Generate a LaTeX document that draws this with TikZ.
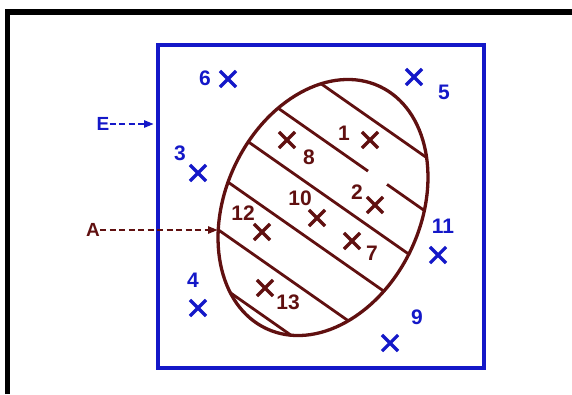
\documentclass[tikz,border=0pt]{standalone}
\usepackage{fontspec}
\setmainfont{Liberation Sans}
\usetikzlibrary{shapes.misc, arrows.meta}
\definecolor{setblue}{RGB}{20,24,200}
\definecolor{setbrown}{RGB}{96,16,16}

\begin{document}
\begin{tikzpicture}[
  x=1pt, y=-1pt,
  font=\fontsize{21}{21}\selectfont\bfseries,
  xmark/.style={cross out, draw, line width=3.2pt, minimum size=13pt, inner sep=0pt},
  bx/.style={xmark, draw=setblue},
  rx/.style={xmark, draw=setbrown},
  bl/.style={text=setblue, inner sep=0pt},
  rl/.style={text=setbrown, inner sep=0pt},
  tag/.style={inner sep=0pt, font=\fontsize{19}{19}\selectfont\bfseries},
  ptr/.style={-{Triangle[length=10pt,width=7pt]}, dash pattern=on 6pt off 3.5pt, line width=2.8pt},
  hatch/.style={setbrown, line width=2.8pt},
]
\useasboundingbox (0,0) rectangle (572,394);
% outer frame, cut by the page on the right and bottom
\draw[line width=5.5pt] (7.5,394) |- (572,12);

% universal set E
\node (E) [draw=setblue, line width=4pt, minimum width=326pt,
           minimum height=323pt, inner sep=0pt] at (321,206.5) {};

% set A, hatched
\begin{scope}
  \clip[shift={(323,207.5)}, rotate=65] (0,0) ellipse [x radius=133.7pt, y radius=97.6pt];
  \foreach \c in {-141,-32,22.5,77,131.5}
    \draw[hatch] (150,{105+\c}) -- (500,{350+\c});
  \draw[hatch] (150,18.5) -- (368,171.1);
  \draw[hatch] (387,184.4) -- (500,263.5);
\end{scope}
\draw[setbrown, line width=3.3pt, shift={(323,207.5)}, rotate=65]
  (0,0) ellipse [x radius=133.7pt, y radius=97.6pt];
\coordinate (atip) at (218,230);

% points outside A
\node (p6)  [bx] at (228,79)  {};  \node (l6)  [bl] at (205,78)  {6};
\node (p5)  [bx] at (414,77)  {};  \node (l5)  [bl] at (444,92)  {5};
\node (p3)  [bx] at (198,173) {};  \node (l3)  [bl] at (180,153) {3};
\node (p4)  [bx] at (198,308) {};  \node (l4)  [bl] at (193,280) {4};
\node (p11) [bx] at (438,255) {};  \node (l11) [bl] at (443,226) {11};
\node (p9)  [bx] at (390,343) {};  \node (l9)  [bl] at (417,317) {9};

% points inside A
\node (p1)  [rx] at (370,140) {};  \node (l1)  [rl] at (344,133) {1};
\node (p8)  [rx] at (287,140) {};  \node (l8)  [rl] at (309,157) {8};
\node (p2)  [rx] at (375,205) {};  \node (l2)  [rl] at (357,192) {2};
\node (p10) [rx] at (317,218) {};  \node (l10) [rl] at (300,198) {10};
\node (p12) [rx] at (262,232) {};  \node (l12) [rl] at (243,213) {12};
\node (p7)  [rx] at (352,241) {};  \node (l7)  [rl] at (372,253) {7};
\node (p13) [rx] at (265,288) {};  \node (l13) [rl] at (288,302) {13};

% pointers
\node (lE) [tag, text=setblue]  at (103,124) {E};
\node (lA) [tag, text=setbrown] at (93,230)  {A};
\draw[ptr, setblue]  (lE.east) -- ([xshift=-2pt]lE.east -| E.west);
\draw[ptr, setbrown] (lA.east) -- (atip);
\end{tikzpicture}
\end{document}
